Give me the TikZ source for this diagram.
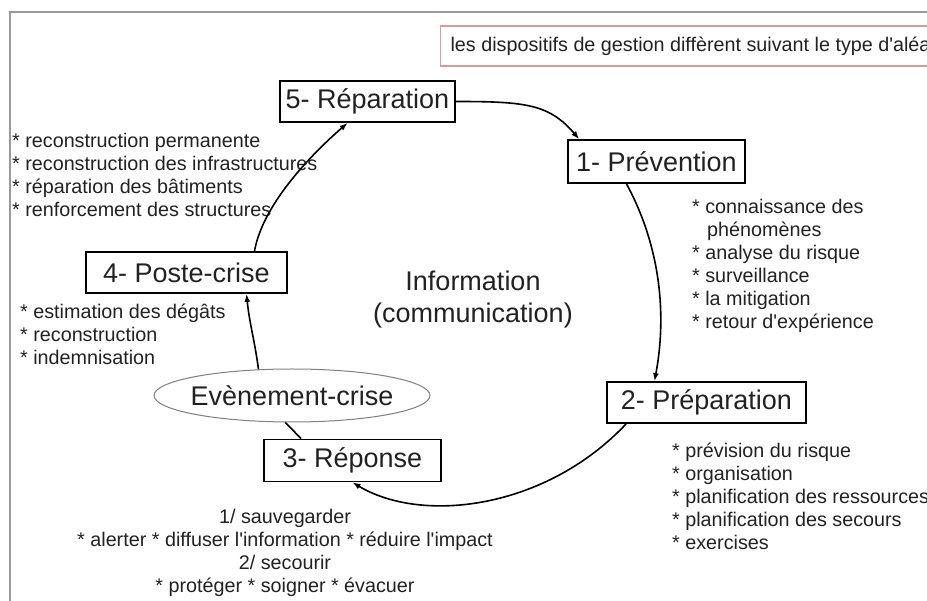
\documentclass[tikz,border=0pt]{standalone}
\usepackage{fontspec}
\setmainfont{Liberation Sans}
\usetikzlibrary{arrows.meta,shapes.geometric,calc}
\definecolor{txt}{HTML}{222222}
\definecolor{framegray}{HTML}{9A9A9A}
\definecolor{notered}{HTML}{D89A9A}
\newcommand{\myapos}{\textquotesingle}
\begin{document}
\begin{tikzpicture}[x=1pt,y=-1pt,
  phase/.style={draw=black, line width=1.8pt, rectangle, inner sep=0pt,
    font=\fontsize{27}{32}\selectfont, text=txt},
  listtext/.style={font=\fontsize{19.75}{23}\selectfont, text=txt, inner sep=0pt, align=left},
  flow/.style={line width=1.6pt, -{Latex[length=8pt,width=6pt]}},
  plainlink/.style={line width=1.6pt}
]
\useasboundingbox (0,0) rectangle (927,601);
\clip (0,0) rectangle (927,601);
\fill[white] (0,0) rectangle (927,601);
% outer frame
\draw[framegray, line width=1.8pt] (10,610) -- (10,12) -- (940,12);
% note box
\node[draw=notered, line width=1.2pt, anchor=west, minimum height=40pt, inner xsep=10pt,
  font=\fontsize{19.75}{23}\selectfont, text=txt] (note) at (440,46)
  {les dispositifs de gestion diffèrent suivant le type d\myapos aléa};
% phases
\node[phase, minimum width=175pt, minimum height=41pt] (B5) at (367.5,101.5) {5- Réparation};
\node[phase, minimum width=177pt, minimum height=43pt] (B1) at (656.5,161.5) {1- Prévention};
\node[phase, minimum width=199pt, minimum height=41pt] (B2) at (706.5,402.5) {2- Préparation};
\node[phase, minimum width=177pt, minimum height=42pt] (B3) at (352.5,460.5) {3- Réponse};
\node[phase, minimum width=201pt, minimum height=41pt] (B4) at (186.5,272.5) {4- Poste-crise};
\node[ellipse, draw=gray, line width=1pt, inner xsep=-4pt, inner ysep=0pt,
  minimum width=276pt, minimum height=53pt, font=\fontsize{27}{32}\selectfont, text=txt]
  (E) at (292,395.5) {Evènement-crise};
% centre
\node[font=\fontsize{27}{32}\selectfont, text=txt, align=center, anchor=north, inner sep=0pt]
  (info) at (473,271) {Information\\(communication)};
% lists
\node[listtext, anchor=north west] (L5) at (12,133)
  {* reconstruction permanente\\* reconstruction des infrastructures\\* réparation des bâtiments\\* renforcement des structures};
\node[listtext, anchor=north west] (L4) at (20,304)
  {* estimation des dégâts\\* reconstruction\\* indemnisation};
\node[listtext, anchor=north west] (L1) at (692,199)
  {* connaissance des\\\hspace*{15pt}phénomènes\\* analyse du risque\\* surveillance\\* la mitigation\\* retour d\myapos expérience};
\node[listtext, anchor=north west] (L2) at (672,443)
  {* prévision du risque\\* organisation\\* planification des ressources\\* planification des secours\\* exercises};
\node[listtext, align=center, anchor=north] (L3) at (285,509)
  {1/ sauvegarder\\* alerter * diffuser l\myapos information * réduire l\myapos impact\\2/ secourir\\* protéger * soigner * évacuer};
% connectors
\draw[flow] (B5.east) .. controls +(70,0) and +(-30,-35) .. ($(B1.north west)+(12,0)$);
\draw[flow] ($(B1.south)+(-30,0)$) .. controls +(30,55) and +(14,-75) .. ($(B2.north)+(-52,0)$);
\draw[flow] ($(B2.south west)+(20,0)$) .. controls +(-80,85) and +(70,42) .. (B3.south);
\draw[plainlink] ($(B3.north west)+(38,0)$) -- (E.-104);
\draw[flow] (E.142) .. controls +(-4,-30) and +(3,30) .. ($(B4.south)+(60,0)$);
\draw[flow] ($(B4.north)+(68,0)$) .. controls +(8,-45) and +(-40,35) .. ($(B5.south)+(-20,0)$);
\end{tikzpicture}
\end{document}
